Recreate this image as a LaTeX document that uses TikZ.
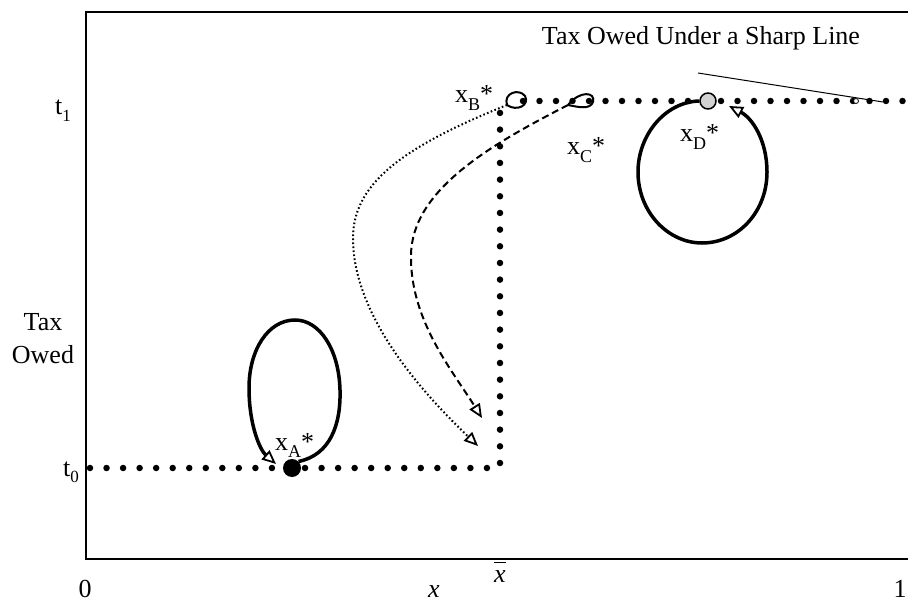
\documentclass[tikz,border=0pt]{standalone}
\usepackage{fontspec}
\setmainfont{Liberation Serif}
\usetikzlibrary{arrows.meta}
\newcommand{\xlab}[1]{x\raisebox{-0.27em}{\fontsize{18}{18}\selectfont #1}*}
\newcommand{\tlab}[1]{t\raisebox{-0.25em}{\fontsize{17}{17}\selectfont #1}}
\begin{document}
\begin{tikzpicture}[x=1pt,y=-1pt,
  font=\fontsize{26}{33}\selectfont,
  opentip/.style={-{Triangle[open,length=14pt,width=12pt,line width=1.8pt]}},
  loopline/.style={line width=3.5pt},
  thinloop/.style={line width=2pt},
  bigdots/.style={line width=6.5pt,line cap=round,dash pattern=on 0pt off #1},
  dotcurve/.style={line width=2pt,dash pattern=on 1.6pt off 2.4pt},
  dashcurve/.style={line width=2pt,dash pattern=on 7pt off 4pt},
  lab/.style={inner sep=0pt,anchor=base west}]
\useasboundingbox (0,0) rectangle (908,604);

% frame
\draw[line width=1.3pt] (912,12) -- (86,12) -- (86,559) -- (912,559);

% step function (dotted)
\draw[bigdots=16.54pt] (90,468) -- (488,468);
\draw[bigdots=16.67pt] (500,463) -- (500,112);
\draw[bigdots=16.5pt] (523,101) -- (910,101);

% axis labels
\node[lab] (t1) at (55,115) {\tlab{1}};
\node[lab] (t0) at (63,476) {\tlab{0}};
\node[inner sep=0pt,anchor=north,align=center] (taxowed) at (43,313) {Tax\\Owed};
\node[inner sep=0pt,anchor=base] (zero) at (85,597) {0};
\node[inner sep=0pt,anchor=base] (xax) at (434,597) {\textit{x}};
\node[inner sep=0pt,anchor=base] (xbar) at (500,582) {$\overline{\mbox{\vphantom{k}\textit{x}}}$};
\node[inner sep=0pt,anchor=base] (one) at (900,597) {1};

% title and pointer
\node[inner sep=0pt,anchor=base] (title) at (701,45) {Tax Owed Under a Sharp Line};
\coordinate (ptrS) at (698,73);
\coordinate (ptrE) at (883,102);
\draw[line width=1pt] (ptrS) -- (ptrE);
\node[circle,draw,fill=white,line width=0.8pt,minimum size=5pt,inner sep=0pt] (mark) at (856,101) {};

% loop A
\node[circle,fill=black,minimum size=18pt,inner sep=0pt] (dotA) at (292,468) {};
\coordinate (endA) at (276,464);
\draw[loopline,opentip] (dotA.north east) .. controls (330,455) and (341,425) .. (340,390)
  .. controls (339,350) and (320,320) .. (295,320)
  .. controls (268,320) and (249,350) .. (249,388)
  .. controls (249,425) and (260,450) .. (endA);
\node[lab] (labA) at (275,450) {\xlab{A}};

% loop D
\node[circle,draw,fill=gray!35,line width=1.5pt,minimum size=16pt,inner sep=0pt] (cD) at (708,101) {};
\coordinate (endD) at (729,106);
\draw[loopline,opentip] (cD.west) .. controls (665,102) and (638,135) .. (638,172)
  .. controls (638,212) and (668,243) .. (702,243)
  .. controls (738,243) and (767,212) .. (767,172)
  .. controls (767,140) and (752,118) .. (endD);
\node[lab] (labD) at (680,142) {\xlab{D}};

% loop B
\coordinate (B) at (507,105);
\draw[thinloop] (B) .. controls (503,93) and (519,88) .. (525,96)
  .. controls (530,105) and (517,112) .. (B);
\node[lab] (labB) at (455,103) {\xlab{B}};
\coordinate (endB) at (478,446);
\draw[dotcurve,opentip] (B) .. controls (400,148) and (352,185) .. (353,240)
  .. controls (354,320) and (428,398) .. (endB);

% loop C
\coordinate (C) at (568,105);
\draw[thinloop] (C) .. controls (580,90) and (596,92) .. (593,102)
  .. controls (590,110) and (578,107) .. (C);
\node[lab] (labC) at (567,155) {\xlab{C}};
\coordinate (endC) at (482,418);
\draw[dashcurve,opentip] (C) .. controls (490,145) and (412,190) .. (411,255)
  .. controls (410,320) and (452,370) .. (endC);
\end{tikzpicture}
\end{document}
